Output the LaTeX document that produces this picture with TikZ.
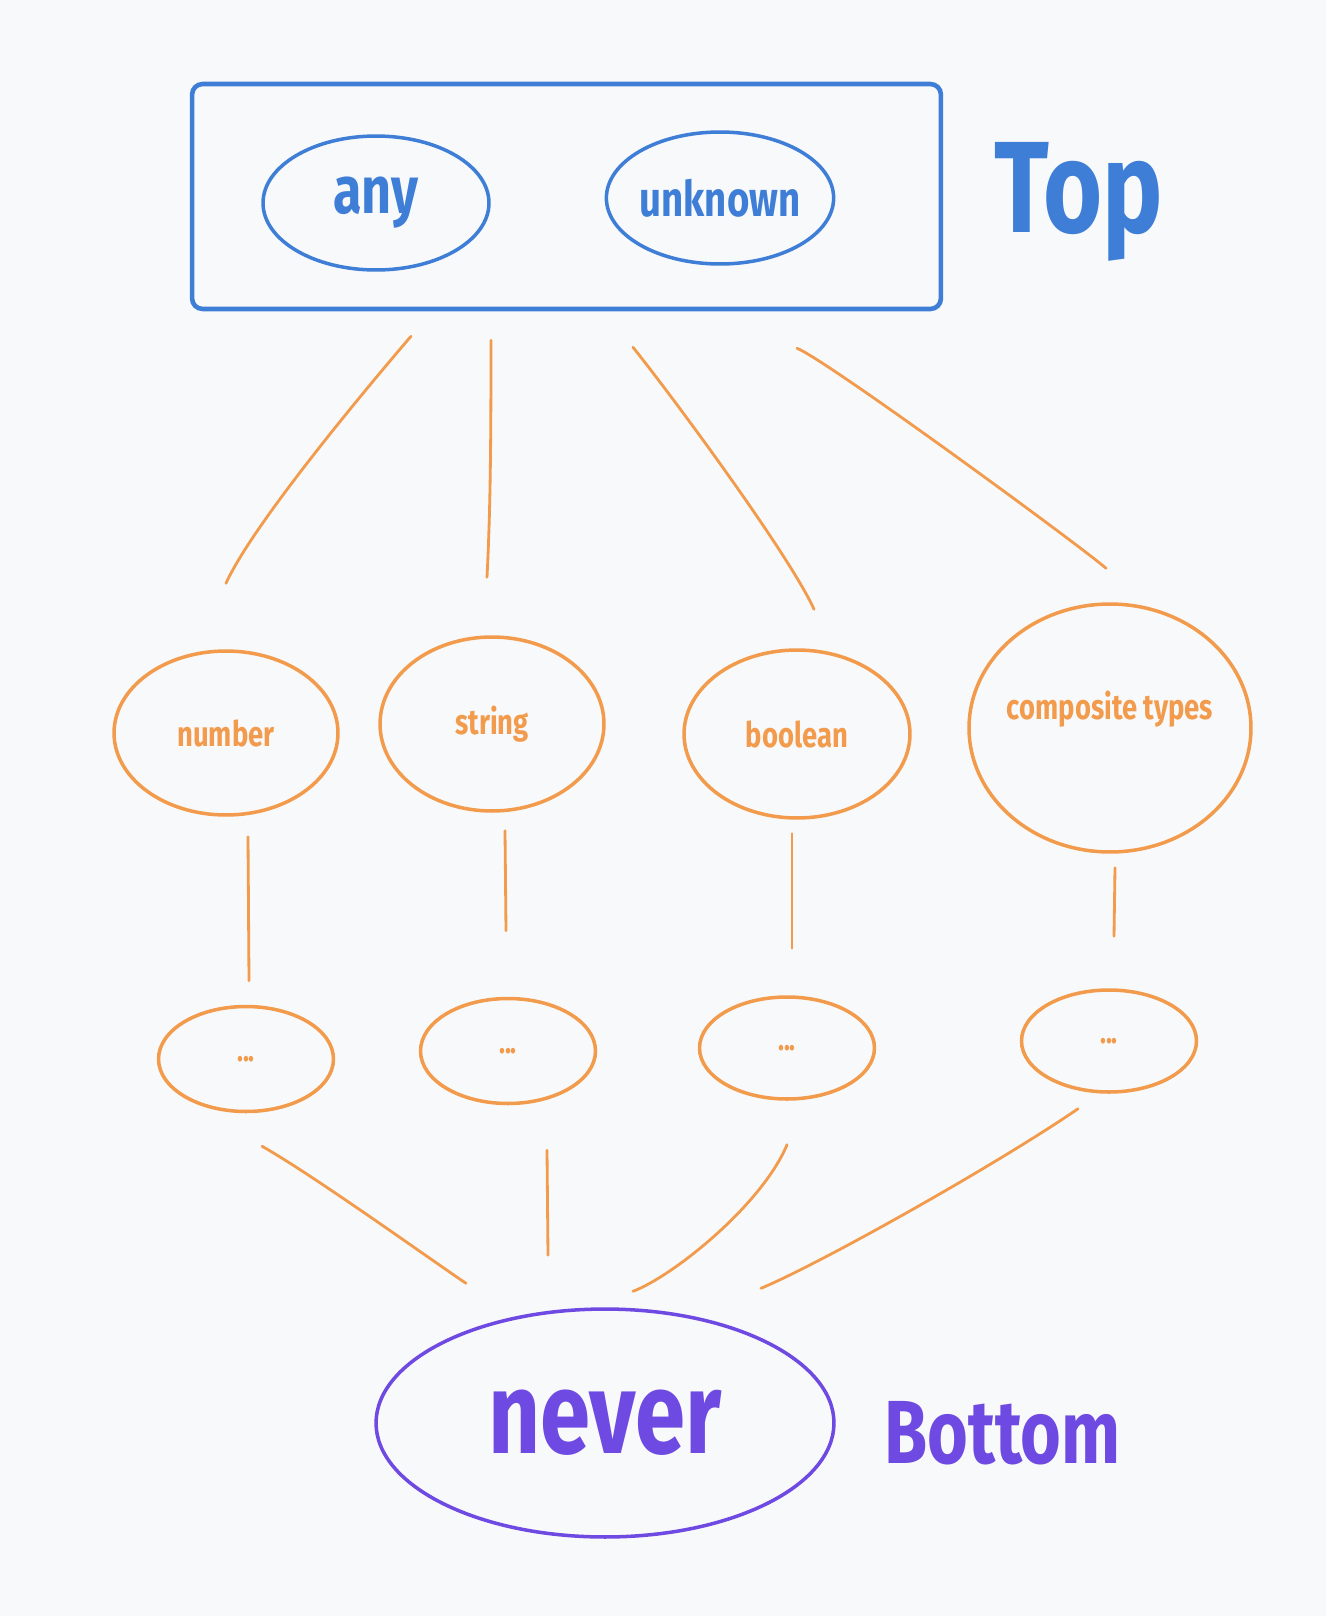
\documentclass[tikz,border=0pt]{standalone}
\usepackage{fontspec}
\usepackage{xcolor}
\usetikzlibrary{shapes.geometric, calc}
\newfontfamily\handfont{Fira Sans}[FakeStretch=0.78]

\definecolor{paper}{HTML}{F8F9FB}
\definecolor{topblue}{HTML}{3F7ED6}
\definecolor{typeorange}{HTML}{F29B4C}
\definecolor{bottompurple}{HTML}{6E4AE2}

\newcommand{\handsize}[1]{\handfont\bfseries\fontsize{#1}{#1}\selectfont}

\tikzset{
  oval/.style={ellipse, draw, line width=2pt, inner sep=0pt},
  topoval/.style={oval, draw=topblue, text=topblue, font=\handsize{38}},
  typeoval/.style={oval, draw=typeorange, text=typeorange, font=\handsize{20}},
  dotoval/.style={oval, draw=typeorange, text=typeorange, font=\handsize{18},
    minimum width=3.5cm, minimum height=2.1cm},
  link/.style={draw=typeorange, line width=1.6pt, line cap=round},
}

\begin{document}
\begin{tikzpicture}[x=0.02cm, y=-0.02cm]
  \fill[paper] (0,0) rectangle (1326,1616);
  \useasboundingbox (0,0) rectangle (1326,1616);

  \node[draw=topblue, line width=2.6pt, rounded corners=6pt, minimum width=14.98cm,
    minimum height=4.5cm, inner sep=0pt] (top) at (566.5,196.5) {};
  \node[topoval, minimum width=4.52cm, minimum height=2.68cm] (any) at (376,203) {any};
  \node[topoval, font=\handsize{28}, minimum width=4.48cm, minimum height=2.64cm] (unknown) at (720,198) {unknown};
  \node[anchor=base west, text=topblue, font=\handsize{74}] (toplabel) at (988,232) {Top};

  \node[typeoval, minimum width=4.48cm, minimum height=3.28cm] (number) at (226,733) {number};
  \node[typeoval, minimum width=4.48cm, minimum height=3.48cm] (string) at (492,724) {string};
  \node[typeoval, minimum width=4.52cm, minimum height=3.36cm] (boolean) at (797,734) {boolean};
  \node[typeoval, minimum width=5.64cm, minimum height=4.96cm,
    label={[text=typeorange, font=\handsize{20}, yshift=0.38cm]center:composite types}] (composite) at (1110,728) {};

  \node[dotoval] (numdots) at (246,1059) {...};
  \node[dotoval] (strdots) at (508,1051) {...};
  \node[dotoval, minimum height=2.04cm] (booldots) at (787,1048) {...};
  \node[dotoval, minimum height=2.04cm] (compdots) at (1109,1041) {...};

  \node[oval, draw=bottompurple, text=bottompurple, font=\handsize{66},
    minimum width=9.16cm, minimum height=4.56cm] (never) at (605,1423) {never};
  \node[anchor=base west, text=bottompurple, font=\handsize{51}] (bottomlabel) at (878,1463) {Bottom};

  \draw[link] ([shift={(-155.5,25)}]top.south) .. controls +(-60,70) and +(25,-55) .. ([shift={(0,-66)}]number.north);
  \draw[link] ([shift={(-75.5,29)}]top.south) .. controls +(0,120) and +(3,-60) .. ([shift={(-5,-58)}]string.north);
  \draw[link] ([shift={(66.5,36)}]top.south) .. controls +(40,50) and +(-25,-55) .. ([shift={(17,-39)}]boolean.north);
  \draw[link] ([shift={(230.5,37)}]top.south) .. controls +(30,12) and +(-25,-22) .. ([shift={(-4,-34)}]composite.north);

  \draw[link] ([shift={(22,20)}]number.south) -- ([shift={(3,-24)}]numdots.north);
  \draw[link] ([shift={(13,18)}]string.south) -- ([shift={(-2,-66)}]strdots.north);
  \draw[link] ([shift={(-5,14)}]boolean.south) -- ([shift={(5,-47)}]booldots.north);
  \draw[link] ([shift={(5,14)}]composite.south) -- ([shift={(5,-52)}]compdots.north);

  \draw[link] ([shift={(16,33)}]numdots.south) .. controls +(50,28) and +(-30,-20) .. ([shift={(-139,-24)}]never.north);
  \draw[link] ([shift={(39,45)}]strdots.south) -- ([shift={(-57,-52)}]never.north);
  \draw[link] ([shift={(0,44)}]booldots.south) .. controls +(-25,60) and +(40,-15) .. ([shift={(28,-16)}]never.north);
  \draw[link] ([shift={(-31,15)}]compdots.south) .. controls +(-80,55) and +(60,-25) .. ([shift={(156,-19)}]never.north);
\end{tikzpicture}
\end{document}
